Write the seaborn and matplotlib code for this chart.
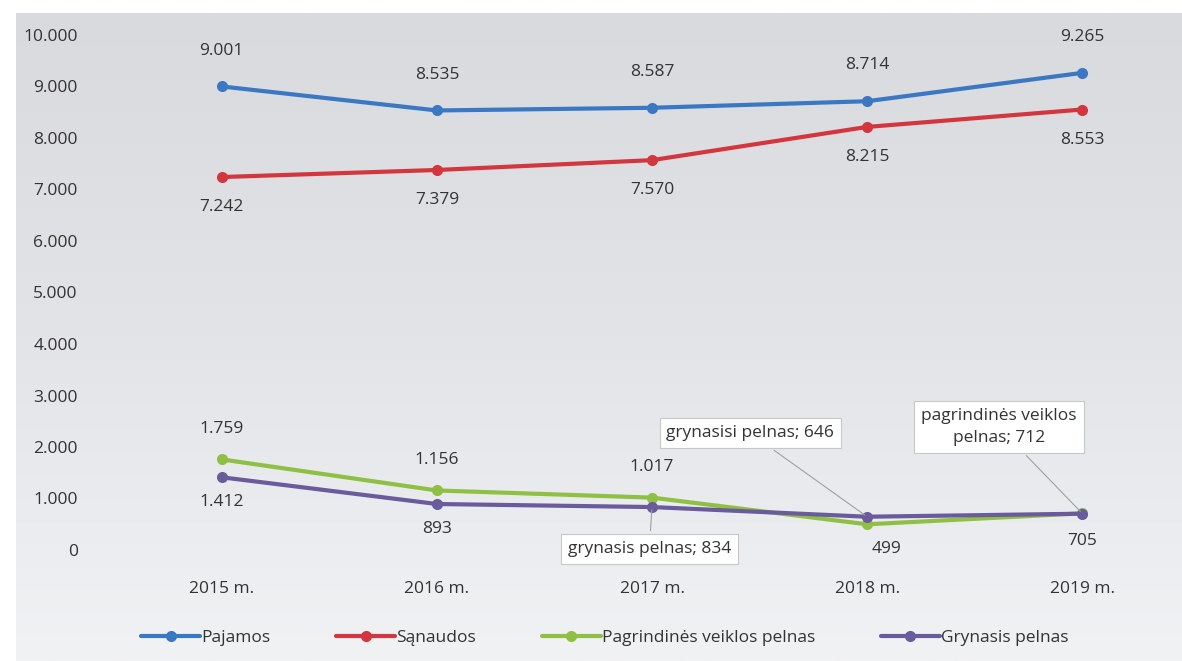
import numpy as np
import pandas as pd
import matplotlib
matplotlib.use("Agg")
import matplotlib.pyplot as plt
import seaborn as sns
from matplotlib.colors import LinearSegmentedColormap

# ===== DATA =====
YEARS = ["2015 m.", "2016 m.", "2017 m.", "2018 m.", "2019 m."]
PAJAMOS = [9001, 8535, 8587, 8714, 9265]
SANAUDOS = [7242, 7379, 7570, 8215, 8553]
PAGR_PELNAS = [1759, 1156, 1017, 499, 712]
GRYN_PELNAS = [1412, 893, 834, 646, 705]
SERIES = ["Pajamos", "Sąnaudos", "Pagrindinės veiklos pelnas", "Grynasis pelnas"]
COLORS = ["#3b78c3", "#d3363f", "#8fc043", "#6a5b9c"]
Y_TICKS = [0, 1000, 2000, 3000, 4000, 5000, 6000, 7000, 8000, 9000, 10000]

TXT = "#333333"


def fmt(v):
    return f"{v:,}".replace(",", ".")


# long table for seaborn
rows = []
for name, vals in zip(SERIES, [PAJAMOS, SANAUDOS, PAGR_PELNAS, GRYN_PELNAS]):
    for i, v in enumerate(vals):
        rows.append({"x": i, "value": v, "series": name})
df = pd.DataFrame(rows)

sns.set_theme(style="white")
plt.rcParams["font.family"] = ["Open Sans", "DejaVu Sans"]

fig = plt.figure(figsize=(11.82, 6.61), dpi=100, facecolor="white")

# scanned-paper look: gray panel fading lighter towards the bottom
bg_ax = fig.add_axes([16 / 1182, 0, 1 - 16 / 1182, 1 - 13 / 661])
bg_cmap = LinearSegmentedColormap.from_list("paper", ["#d9dadd", "#e3e4e8", "#f1f2f4"])
bg_ax.imshow(np.linspace(0, 1, 256).reshape(-1, 1), cmap=bg_cmap, aspect="auto")
bg_ax.set_axis_off()

ax = fig.add_axes([125 / 1182, 1 - 550 / 661, (1179 - 125) / 1182, (550 - 35) / 661])
ax.patch.set_alpha(0)

sns.lineplot(data=df, x="x", y="value", hue="series", hue_order=SERIES,
             palette=COLORS, marker="o", markersize=8, markeredgewidth=0,
             linewidth=3, ax=ax, legend=True)

ax.set_xlim(-0.45, len(YEARS) - 1 + 0.45)
ax.set_ylim(0, 10000)
ax.set_yticks(Y_TICKS)
ax.set_yticklabels([fmt(t) for t in Y_TICKS])
ax.set_xticks(range(len(YEARS)))
ax.set_xticklabels(YEARS)
ax.tick_params(axis="x", pad=22, length=0, labelsize=12.5, labelcolor=TXT)
ax.tick_params(axis="y", pad=34, length=0, labelsize=12.5, labelcolor=TXT)
for s in ax.spines.values():
    s.set_visible(False)
ax.set_xlabel("")
ax.set_ylabel("")

lab = dict(ha="center", fontsize=12.5, color=TXT)
# plain data labels
for i, v in enumerate(PAJAMOS):
    ax.annotate(fmt(v), (i, v), xytext=(0, 20), textcoords="offset points", va="bottom", **lab)
for i, v in enumerate(SANAUDOS):
    ax.annotate(fmt(v), (i, v), xytext=(0, -16), textcoords="offset points", va="top", **lab)
for i in range(3):
    ax.annotate(fmt(PAGR_PELNAS[i]), (i, PAGR_PELNAS[i]), xytext=(0, 16),
                textcoords="offset points", va="bottom", **lab)
for i in range(2):
    ax.annotate(fmt(GRYN_PELNAS[i]), (i, GRYN_PELNAS[i]), xytext=(0, -12),
                textcoords="offset points", va="top", **lab)
ax.annotate(fmt(PAGR_PELNAS[3]), (3, PAGR_PELNAS[3]), xytext=(14, -12),
            textcoords="offset points", va="top", **lab)
ax.annotate(fmt(GRYN_PELNAS[4]), (4, GRYN_PELNAS[4]), xytext=(0, -14),
            textcoords="offset points", va="top", **lab)

# callouts
box = dict(boxstyle="square,pad=0.4", fc="white", ec="#c8c8c8", lw=0.8)
arrow = dict(arrowstyle="-", color="#a0a0a0", lw=0.8)
ax.annotate(f"grynasis pelnas; {GRYN_PELNAS[2]}", (2, GRYN_PELNAS[2]),
            xytext=(-2, -30), textcoords="offset points", va="center",
            bbox=box, arrowprops=arrow, **lab)
ax.annotate(f"grynasisi pelnas; {GRYN_PELNAS[3]}", (3, GRYN_PELNAS[3]),
            xytext=(-84, 60), textcoords="offset points", va="center",
            bbox=box, arrowprops=arrow, **lab)
ax.annotate(f"pagrindinės veiklos\npelnas; {PAGR_PELNAS[4]}", (4, PAGR_PELNAS[4]),
            xytext=(-60, 62), textcoords="offset points", va="center",
            bbox=box, arrowprops=arrow, linespacing=1.5, **lab)

# legend at the bottom
handles, labels = ax.get_legend_handles_labels()
ax.legend(handles, labels, loc="upper center", bbox_to_anchor=(0.455, -0.125),
          ncol=4, frameon=False, fontsize=12.5, handlelength=3.4,
          handletextpad=0.05, columnspacing=3.8, labelcolor=TXT)

fig.savefig("out.png", dpi=100, facecolor="white")
